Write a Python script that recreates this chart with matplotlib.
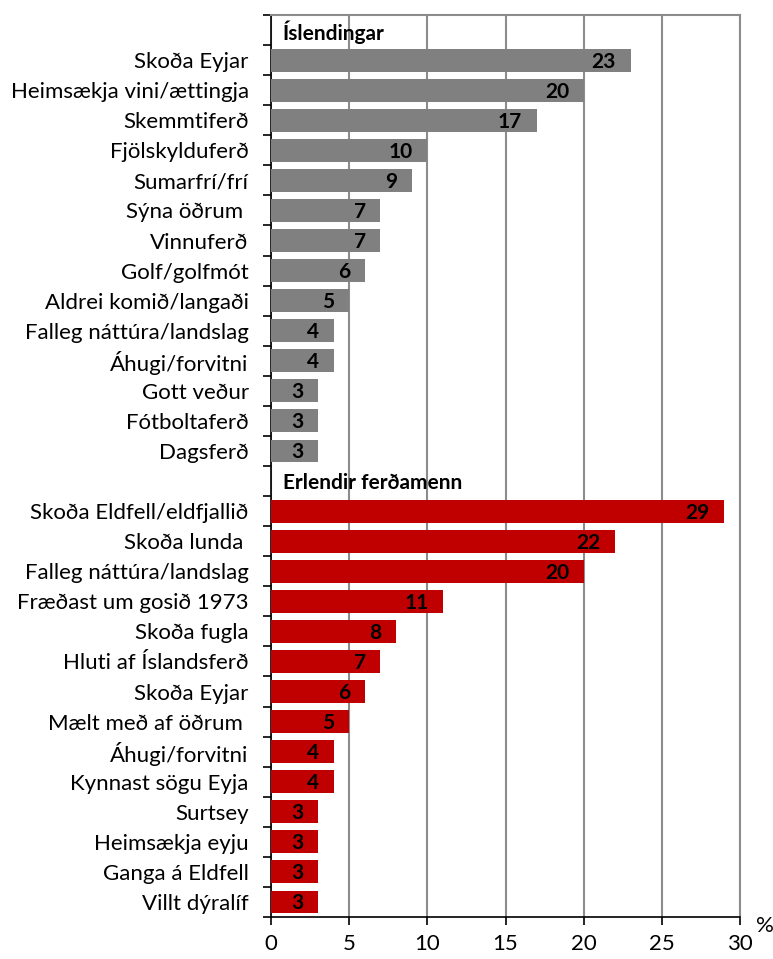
import matplotlib
matplotlib.use("Agg")
import matplotlib.pyplot as plt
from matplotlib.ticker import FixedLocator, NullFormatter

plt.rcParams['font.family'] = ['Lato', 'DejaVu Sans']

header_is = "Íslendingar"
cats_is = ["Skoða Eyjar", "Heimsækja vini/ættingja", "Skemmtiferð", "Fjölskylduferð",
           "Sumarfrí/frí", "Sýna öðrum ", "Vinnuferð", "Golf/golfmót",
           "Aldrei komið/langaði", "Falleg náttúra/landslag", "Áhugi/forvitni",
           "Gott veður", "Fótboltaferð", "Dagsferð"]
vals_is = [23, 20, 17, 10, 9, 7, 7, 6, 5, 4, 4, 3, 3, 3]

header_er = "Erlendir ferðamenn"
cats_er = ["Skoða Eldfell/eldfjallið", "Skoða lunda ", "Falleg náttúra/landslag",
           "Fræðast um gosið 1973", "Skoða fugla", "Hluti af Íslandsferð", "Skoða Eyjar",
           "Mælt með af öðrum ", "Áhugi/forvitni", "Kynnast sögu Eyja", "Surtsey",
           "Heimsækja eyju", "Ganga á Eldfell", "Villt dýralíf"]
vals_er = [29, 22, 20, 11, 8, 7, 6, 5, 4, 4, 3, 3, 3, 3]

xticks = [0, 5, 10, 15, 20, 25, 30]

fig = plt.figure(figsize=(7.73, 9.59), dpi=100)
ax = fig.add_axes([271/773, 1-917/959, (740-271)/773, (917-15)/959])

nrows = 2 + len(cats_is) + len(cats_er)
fs = 16
fsb = 15

def draw_group(start, cats, vals, color, header):
    ax.text(0.75, start + 0.58, header, fontsize=fsb, fontweight='bold', va='center', ha='left')
    ys = [start + 1 + i + 0.5 for i in range(len(cats))]
    ax.barh(ys, vals, height=0.76, color=color, zorder=3)
    for y, v in zip(ys, vals):
        ax.annotate(str(v), (v, y + 0.05), xytext=(-10.5, 0), textcoords='offset points',
                    ha='right', va='center', fontsize=fsb, fontweight='bold', zorder=4)
    return ys

ys1 = draw_group(0, cats_is, vals_is, '#808080', header_is)
ys2 = draw_group(1 + len(cats_is), cats_er, vals_er, '#C00000', header_er)

ax.set_ylim(nrows, 0)
ax.set_xlim(0, 30)
ax.set_xticks(xticks)
ax.set_xticklabels([str(t) for t in xticks], fontsize=fs)
ax.xaxis.grid(True, color='#8c8c8c', linewidth=1.5, zorder=0)

ax.yaxis.set_major_locator(FixedLocator(list(range(nrows + 1))))
ax.yaxis.set_major_formatter(NullFormatter())
ax.yaxis.set_minor_locator(FixedLocator(ys1 + ys2))
ax.set_yticklabels(cats_is + cats_er, minor=True, fontsize=fs)
ax.tick_params(axis='y', which='minor', length=0, pad=16)
ax.tick_params(axis='y', which='major', length=6, width=1.2, direction='out')
ax.tick_params(axis='x', length=6, width=1.2, direction='out', pad=6)

for s in ['top', 'right']:
    ax.spines[s].set_color('#8c8c8c')
    ax.spines[s].set_linewidth(1.5)
for s in ['left', 'bottom']:
    ax.spines[s].set_color('black')
    ax.spines[s].set_linewidth(1.2)

fig.text(765/773, 1-926/959, '%', fontsize=fs, ha='center', va='center')

fig.savefig('out.png', dpi=100)
